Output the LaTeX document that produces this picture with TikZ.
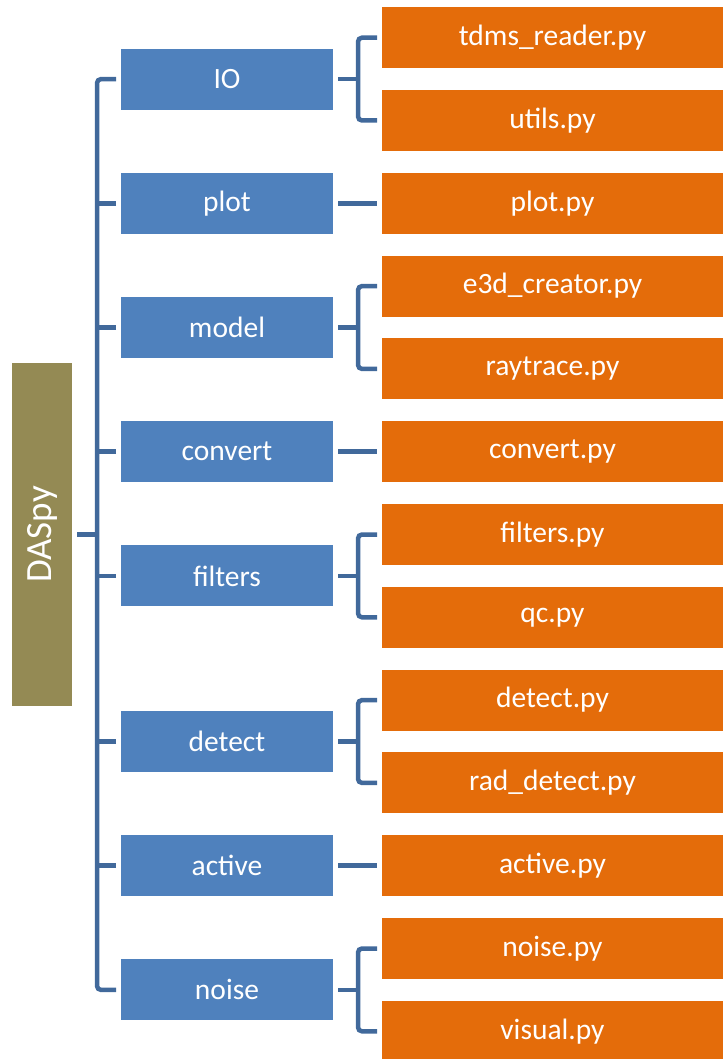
\documentclass[tikz,border=0pt]{standalone}
\usepackage{fontspec}
\setmainfont{Carlito}
\usetikzlibrary{positioning}
\definecolor{bluebox}{HTML}{4F81BD}
\definecolor{orangebox}{HTML}{E46C0A}
\definecolor{olivebox}{HTML}{948A54}
\definecolor{linec}{HTML}{41699B}
\begin{document}
\begin{tikzpicture}[x=1pt,y=-1pt,
  every node/.style={inner sep=0pt, outer sep=0pt, text=white, font=\fontsize{29.5}{32}\selectfont},
  rootbox/.style={fill=olivebox, minimum width=60.6pt, minimum height=342.7pt, font=\fontsize{37}{40}\selectfont},
  modbox/.style={fill=bluebox, minimum width=212pt, minimum height=61pt},
  filebox/.style={fill=orangebox, minimum width=341pt, minimum height=61pt},
  conn/.style={draw=linec, line width=4.5pt, rounded corners=4pt}]
\useasboundingbox (0,0) rectangle (723,1059);
\begin{scope}
\clip (0,0) rectangle (723,1059);
% files
\node[filebox] (tdms) at (552.5,37.7) {tdms\_reader.py};
\node[filebox] (utils) at (552.5,120.5) {utils.py};
\node[filebox] (plotpy) at (552.5,203.3) {plot.py};
\node[filebox] (e3d) at (552.5,286.1) {e3d\_creator.py};
\node[filebox] (ray) at (552.5,368.9) {raytrace.py};
\node[filebox] (convpy) at (552.5,451.7) {convert.py};
\node[filebox] (filtpy) at (552.5,534.5) {filters.py};
\node[filebox] (qc) at (552.5,617.3) {qc.py};
\node[filebox] (detpy) at (552.5,700.1) {detect.py};
\node[filebox] (raddet) at (552.5,782.9) {rad\_detect.py};
\node[filebox] (actpy) at (552.5,865.7) {active.py};
\node[filebox] (noipy) at (552.5,948.5) {noise.py};
\node[filebox] (vis) at (552.5,1031.3) {visual.py};
% modules
\node[modbox] (io) at (227,79.1) {IO};
\node[modbox] (plot) at (227,203.3) {plot};
\node[modbox] (model) at (227,327.5) {model};
\node[modbox] (convert) at (227,451.7) {convert};
\node[modbox] (filters) at (227,575.9) {filters};
\node[modbox] (detect) at (227,741.5) {detect};
\node[modbox] (active) at (227,865.7) {active};
\node[modbox] (noise) at (227,989.9) {noise};
% root
\node[rootbox] (root) at (42,534.5) {\rotatebox{90}{DASpy}};
% main spine
\draw[conn] ([xshift=-5pt]io.west) -| ([xshift=-24pt]noise.west) -- ([xshift=-5pt]noise.west);
\foreach \m in {plot,model,convert,filters,detect,active}
  \draw[conn] ([xshift=-5pt]\m.west) -- ([xshift=-24pt]\m.west);
\draw[conn] ([xshift=5pt]root.east) -- ([xshift=-24pt]io.west |- root.east);
% right brackets (pairs)
\foreach \m/\a/\b in {io/tdms/utils, model/e3d/ray, filters/filtpy/qc, detect/detpy/raddet, noise/noipy/vis}{
  \draw[conn] ([xshift=-5pt]\a.west) -| ([xshift=-24pt]\b.west) -- ([xshift=-5pt]\b.west);
  \draw[conn] ([xshift=5pt]\m.east) -- ([xshift=-24pt]\a.west |- \m.east);
}
% single links
\foreach \m/\a in {plot/plotpy, convert/convpy, active/actpy}
  \draw[conn] ([xshift=5pt]\m.east) -- ([xshift=-5pt]\a.west |- \m.east);
\end{scope}
\end{tikzpicture}
\end{document}
